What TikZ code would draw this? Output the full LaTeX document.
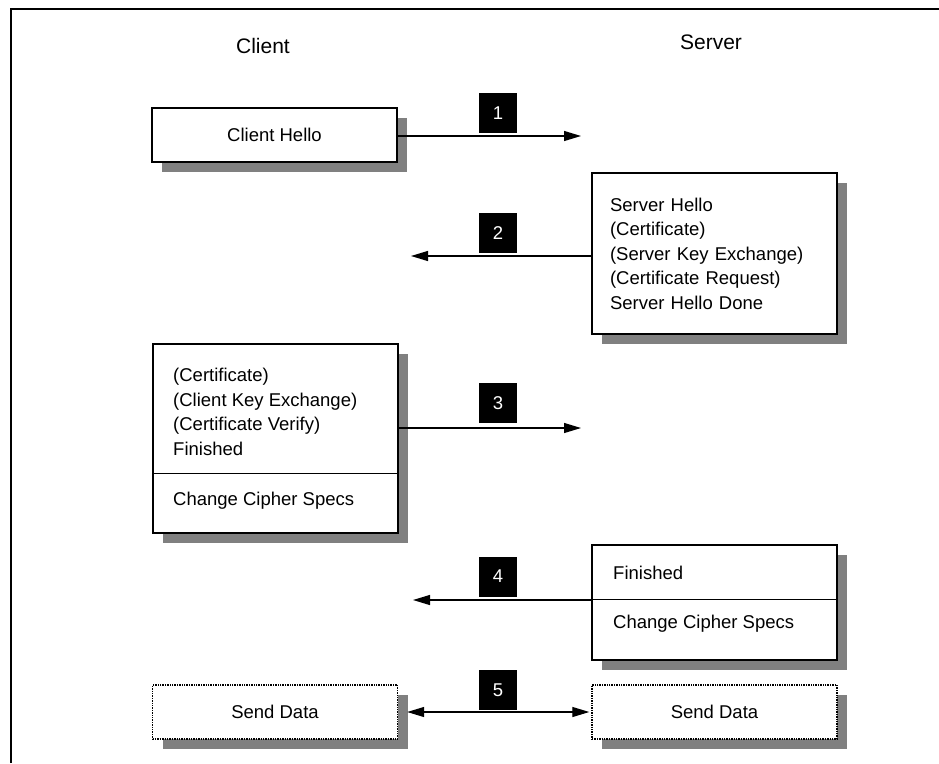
\documentclass[tikz,border=0pt]{standalone}
\usepackage{fontspec}
\setmainfont{Liberation Sans}
\usepackage{xcolor}
\usetikzlibrary{arrows.meta, shadows, calc}
\definecolor{shadowG}{RGB}{128,128,128}
\tikzset{
  msgbox/.style={draw, line width=1.4pt, fill=white, inner sep=0pt,
    font=\fontsize{18.5}{24.5}\selectfont,
    drop shadow={shadow xshift=10pt, shadow yshift=-10pt, fill=shadowG, opacity=1}},
  databox/.style={msgbox, densely dotted},
  msgtext/.style={inner sep=0pt, align=left, font=\fontsize{18.5}{24.5}\selectfont},
  steplabel/.style={fill=black, text=white, minimum width=38pt, minimum height=40pt,
    inner sep=0pt, font=\fontsize{18.5}{20}\selectfont},
  msgarrow/.style={line width=1.2pt, -{Triangle[length=17pt, width=10pt]}},
  dataarrow/.style={line width=1.2pt, {Triangle[length=17pt, width=10pt]}-{Triangle[length=17pt, width=10pt]}}
}

\begin{document}
\begin{tikzpicture}[x=1pt, y=-1pt]
\useasboundingbox (0,0) rectangle (939,763);
% frame (top and left edge only)
\draw[line width=1.2pt] (11,763) -- (11,9) -- (939,9);
% headings
\node[font=\fontsize{21}{25}\selectfont] (client) at (263,46) {Client};
\node[font=\fontsize{21}{25}\selectfont] (server) at (711,42) {Server};
% step 1
\node[msgbox, minimum width=245pt, minimum height=54pt] (chello) at (274.5,135) {Client Hello};
\coordinate (c1) at (581,136);
\draw[msgarrow] (chello.east |- c1) -- (c1);
\node[steplabel] (n1) at (498,113) {1};
% step 2
\node[msgbox, minimum width=245pt, minimum height=161pt, text width=209pt, align=left,
  inner xsep=18pt] (shello) at (714.5,253.5)
  {Server Hello\\(Certificate)\\(Server Key Exchange)\\(Certificate Request)\\Server Hello Done};
\coordinate (c2) at (411,256);
\draw[msgarrow] (shello.west |- c2) -- (c2);
\node[steplabel] (n2) at (498,233) {2};
% step 3
\node[msgbox, minimum width=245pt, minimum height=189pt] (cfin) at (275.5,438.5) {};
\draw[line width=1pt] ($(cfin.north west)+(0,130)$) -- ($(cfin.north east)+(0,130)$);
\node[msgtext, anchor=west] (cfintxt) at (173,412)
  {(Certificate)\\(Client Key Exchange)\\(Certificate Verify)\\Finished};
\node[msgtext, anchor=west] (cccs) at (173,501) {Change Cipher Specs};
\coordinate (c3) at (581,428);
\draw[msgarrow] (cfin.east |- c3) -- (c3);
\node[steplabel] (n3) at (498,403) {3};
% step 4
\node[msgbox, minimum width=245pt, minimum height=115pt] (sfin) at (714.5,602.5) {};
\draw[line width=1pt] ($(sfin.north west)+(0,55)$) -- ($(sfin.north east)+(0,55)$);
\node[msgtext, anchor=west] (sfintxt) at (613,573) {Finished};
\node[msgtext, anchor=west] (sccs) at (613,624) {Change Cipher Specs};
\coordinate (c4) at (413,600);
\draw[msgarrow] (sfin.west |- c4) -- (c4);
\node[steplabel] (n4) at (498,576.5) {4};
% step 5
\node[databox, minimum width=245pt, minimum height=54pt] (cdata) at (275,712) {Send Data};
\node[databox, minimum width=245pt, minimum height=54pt] (sdata) at (714.5,712) {Send Data};
\draw[dataarrow] ([xshift=9pt]cdata.east) -- ([xshift=-2pt]sdata.west);
\node[steplabel] (n5) at (498,690) {5};
\end{tikzpicture}
\end{document}
